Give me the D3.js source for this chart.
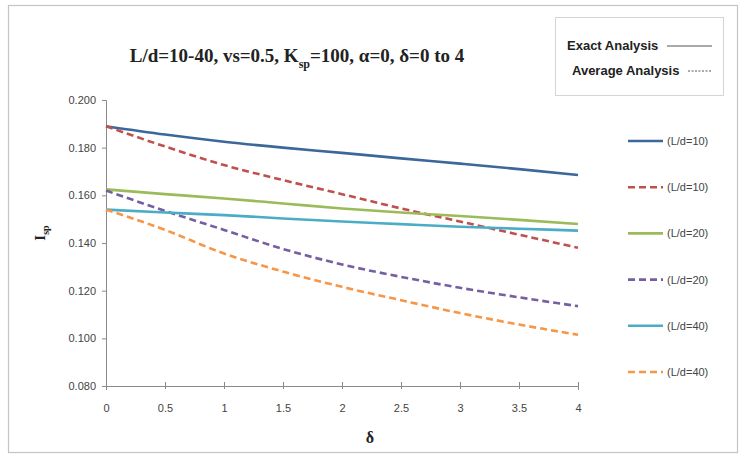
<!DOCTYPE html>
<html>
<head>
<meta charset="utf-8">
<script src="https://cdn.jsdelivr.net/npm/d3@7"></script>
<style>
  html, body { margin: 0; padding: 0; background: #fff; }
  svg { display: block; }
  .tick text { font-family: "Liberation Sans Narrow", "Arial Narrow", "Liberation Sans", sans-serif; font-size: 11px; fill: #444; }
</style>
</head>
<body>
<svg id="chart" width="740" height="465"></svg>
<script>
// δ values along the x axis
const deltas = [0, 0.5, 1, 1.5, 2, 2.5, 3, 3.5, 4];

// Settlement factor for each pile slenderness, exact vs. average analysis
const exact10   = [0.189, 0.1855, 0.1825, 0.1800, 0.1778, 0.1755, 0.1733, 0.1710, 0.1685];
const average10 = [0.189, 0.1805, 0.1727, 0.1664, 0.1605, 0.1545, 0.1490, 0.1435, 0.1380];
const exact20   = [0.1625, 0.1605, 0.1587, 0.1566, 0.1545, 0.1528, 0.1513, 0.1497, 0.1480];
const average20 = [0.162, 0.1535, 0.1455, 0.1375, 0.1310, 0.1258, 0.1212, 0.1172, 0.1135];
const exact40   = [0.1540, 0.1528, 0.1517, 0.1503, 0.1490, 0.1479, 0.1468, 0.1460, 0.1452];
const average40 = [0.154, 0.1455, 0.1356, 0.1280, 0.1216, 0.1160, 0.1106, 0.1058, 0.1015];

const seriesNames = ["(L/d=10)", "(L/d=10)", "(L/d=20)", "(L/d=20)", "(L/d=40)", "(L/d=40)"];
const seriesValues = [exact10, average10, exact20, average20, exact40, average40];
const seriesColors = ["#3b679a", "#c0504d", "#9bbb59", "#7460a0", "#4bacc6", "#f79646"];
const seriesDashed = [false, true, false, true, false, true];

const yTicks = [0.08, 0.10, 0.12, 0.14, 0.16, 0.18, 0.20];
const xTicks = [0, 0.5, 1, 1.5, 2, 2.5, 3, 3.5, 4];

const svg = d3.select("#chart");

// outer chart frame
svg.append("rect")
  .attr("x", 8.5).attr("y", 5.5).attr("width", 729).attr("height", 447)
  .attr("fill", "#fff").attr("stroke", "#c4c4c4").attr("stroke-width", 1.2);

const plot = { left: 106, right: 578, top: 100, bottom: 386 };

const x = d3.scaleLinear().domain([0, 4]).range([plot.left, plot.right]);
const y = d3.scaleLinear().domain([0.08, 0.20]).range([plot.bottom, plot.top]);

// y axis
const yAxis = svg.append("g")
  .attr("transform", `translate(${plot.left},0)`)
  .call(d3.axisLeft(y).tickValues(yTicks).tickFormat(d3.format(".3f")).tickSize(4).tickPadding(6));
yAxis.select(".domain").attr("stroke", "#8a8a8a");
yAxis.selectAll(".tick line").attr("stroke", "#8a8a8a");

// x axis
const xAxis = svg.append("g")
  .attr("transform", `translate(0,${plot.bottom})`)
  .call(d3.axisBottom(x).tickValues(xTicks).tickFormat(d => d3.format("")(d)).tickSize(4).tickPadding(14));
xAxis.select(".domain").attr("stroke", "#8a8a8a");
xAxis.selectAll(".tick line").attr("stroke", "#8a8a8a").attr("y1", -4).attr("y2", 3);

// curves
const line = d3.line()
  .x((d, i) => x(deltas[i]))
  .y(d => y(d))
  .curve(d3.curveMonotoneX);

seriesValues.forEach((vals, k) => {
  svg.append("path")
    .datum(vals)
    .attr("d", line)
    .attr("fill", "none")
    .attr("stroke", seriesColors[k])
    .attr("stroke-width", 2.6)
    .attr("stroke-dasharray", seriesDashed[k] ? "7,4" : null);
});

// title
const title = svg.append("text")
  .attr("x", 297).attr("y", 62)
  .attr("text-anchor", "middle")
  .attr("font-family", "'Liberation Serif', 'Times New Roman', serif")
  .attr("font-weight", "bold")
  .attr("font-size", 19)
  .attr("fill", "#222");
title.append("tspan").text("L/d=10-40, vs=0.5, K");
title.append("tspan").attr("font-size", 12).attr("dy", 6).text("sp");
title.append("tspan").attr("dy", -6).text("=100, α=0, δ=0 to 4");

// y axis title
const yt = svg.append("text")
  .attr("transform", "translate(45,233) rotate(-90)")
  .attr("text-anchor", "middle")
  .attr("font-family", "'Liberation Serif', 'Times New Roman', serif")
  .attr("font-weight", "bold")
  .attr("font-size", 15)
  .attr("fill", "#222");
yt.append("tspan").text("I");
yt.append("tspan").attr("font-size", 10).attr("dy", 4).text("sp");

// x axis title
svg.append("text")
  .attr("x", 370).attr("y", 443)
  .attr("text-anchor", "middle")
  .attr("font-family", "'Liberation Serif', 'Times New Roman', serif")
  .attr("font-weight", "bold")
  .attr("font-size", 16)
  .attr("fill", "#222")
  .text("δ");

// series legend
const legendY = d3.scaleLinear().domain([0, 5]).range([141, 372]);
const leg = svg.append("g");
seriesNames.forEach((name, k) => {
  const ly = legendY(k);
  leg.append("line")
    .attr("x1", 628).attr("x2", 663).attr("y1", ly).attr("y2", ly)
    .attr("stroke", seriesColors[k]).attr("stroke-width", 2.6)
    .attr("stroke-dasharray", seriesDashed[k] ? "7,4" : null);
  leg.append("text")
    .attr("x", 667).attr("y", ly + 4)
    .attr("font-family", "'Liberation Sans Narrow', 'Arial Narrow', 'Liberation Sans', sans-serif")
    .attr("font-size", 11)
    .attr("fill", "#444")
    .text(name);
});

// line style key
const key = svg.append("g");
key.append("rect")
  .attr("x", 555.5).attr("y", 17.5).attr("width", 168).attr("height", 78)
  .attr("fill", "#fff").attr("stroke", "#d4d4d4").attr("stroke-width", 1);
key.append("text")
  .attr("x", 567).attr("y", 50)
  .attr("font-family", "'Liberation Sans Narrow', 'Arial Narrow', 'Liberation Sans', sans-serif")
  .attr("font-weight", "bold").attr("font-size", 13).attr("fill", "#222")
  .text("Exact Analysis");
key.append("line")
  .attr("x1", 667).attr("x2", 712).attr("y1", 46).attr("y2", 46)
  .attr("stroke", "#555").attr("stroke-width", 1);
key.append("text")
  .attr("x", 572).attr("y", 75)
  .attr("font-family", "'Liberation Sans Narrow', 'Arial Narrow', 'Liberation Sans', sans-serif")
  .attr("font-weight", "bold").attr("font-size", 13).attr("fill", "#222")
  .text("Average Analysis");
key.append("line")
  .attr("x1", 688).attr("x2", 711).attr("y1", 71).attr("y2", 71)
  .attr("stroke", "#555").attr("stroke-width", 1).attr("stroke-dasharray", "2,1.5");
</script>
</body>
</html>
